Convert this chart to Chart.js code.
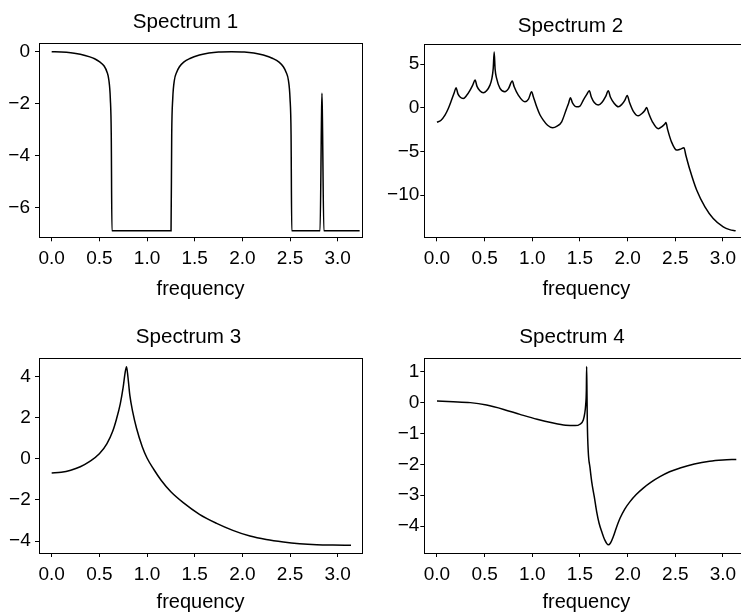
<!DOCTYPE html>
<html>
<head>
<meta charset="utf-8">
<script src="https://cdn.jsdelivr.net/npm/chart.js@4.4.0/dist/chart.umd.min.js"></script>
<style>
  html, body { margin: 0; padding: 0; background: #fff; overflow: hidden; width: 741px; height: 613px; }
  canvas { position: absolute; }
</style>
</head>
<body>
<canvas id="c1"></canvas>
<canvas id="c2"></canvas>
<canvas id="c3"></canvas>
<canvas id="c4"></canvas>
<script>
const titles = ['Spectrum 1', 'Spectrum 2', 'Spectrum 3', 'Spectrum 4'];
const xLabel = 'frequency';
const xTicks = [0, 0.5, 1, 1.5, 2, 2.5, 3];

// Spectrum 1
const freq1 = [0, 0.1, 0.2, 0.3, 0.4, 0.45, 0.5, 0.55, 0.58, 0.6, 0.615, 0.625, 0.632,
  1.252, 1.259, 1.27, 1.287, 1.31, 1.34, 1.385, 1.45, 1.55, 1.65, 1.75, 1.885,
  2.02, 2.12, 2.22, 2.32, 2.385, 2.43, 2.46, 2.483, 2.5, 2.511, 2.518,
  2.815, 2.83, 2.835, 2.84, 2.855, 3.23];
const spec1 = [0, -0.01, -0.04, -0.1, -0.2, -0.27, -0.38, -0.55, -0.78, -1.1, -1.8, -3.2, -6.91,
  -6.91, -3.2, -1.8, -1.1, -0.8, -0.58, -0.4, -0.26, -0.13, -0.05, -0.01, 0,
  -0.01, -0.05, -0.13, -0.26, -0.4, -0.58, -0.8, -1.1, -1.8, -3.2, -6.91,
  -6.91, -2.6, -1.6, -2.6, -6.91, -6.91];
const yTicks1 = [0, -2, -4, -6];

// Spectrum 2
const freq2 = [0, 0.04, 0.084, 0.12, 0.15, 0.18, 0.2, 0.22, 0.245, 0.276, 0.31, 0.346, 0.375, 0.4,
  0.42, 0.45, 0.486, 0.52, 0.556, 0.575, 0.59, 0.6, 0.61, 0.625, 0.661, 0.713, 0.75, 0.79,
  0.81, 0.853, 0.923, 0.96, 0.993, 1.01, 1.046, 1.08, 1.115, 1.16, 1.213, 1.26, 1.308, 1.36,
  1.38, 1.4, 1.42, 1.465, 1.5, 1.535, 1.57, 1.598, 1.62, 1.65, 1.692, 1.73, 1.77, 1.797,
  1.82, 1.86, 1.902, 1.94, 1.97, 1.996, 2.02, 2.06, 2.112, 2.15, 2.18, 2.2, 2.22, 2.26,
  2.322, 2.36, 2.39, 2.402, 2.42, 2.46, 2.514, 2.55, 2.591, 2.61, 2.654, 2.724, 2.811,
  2.898, 3.003, 3.07, 3.133];
const spec2 = [-1.65, -1.45, -0.84, -0.05, 0.8, 1.7, 2.3, 1.6, 1.2, 1.07, 1.4, 2.0, 2.6, 3.17,
  2.45, 1.95, 1.72, 1.95, 2.6, 3.3, 4.5, 6.4, 4.4, 3.4, 2.22, 1.84, 2.2, 3.06,
  2.4, 1.45, 0.69, 1.0, 1.84, 1.3, 0.11, -0.8, -1.41, -2.0, -2.29, -2.1, -1.6, -0.07,
  0.5, 1.15, 0.6, 0.11, 0.2, 0.88, 1.5, 1.95, 1.2, 0.6, 0.31, 0.6, 1.3, 1.95,
  1.2, 0.5, 0.11, 0.4, 0.85, 1.42, 0.6, -0.4, -0.92, -0.65, -0.3, 0.04, -0.6, -1.6,
  -2.4, -2.15, -1.85, -1.68, -2.5, -3.9, -4.84, -4.75, -4.58, -5.4, -7.13, -9.42, -11.34,
  -12.67, -13.63, -13.95, -14.08];
const yTicks2 = [5, 0, -5, -10];

// Spectrum 3
const freq3 = [0, 0.1, 0.2, 0.3, 0.4, 0.5, 0.58, 0.64, 0.68, 0.72, 0.75, 0.77, 0.785, 0.8,
  0.82, 0.85, 0.89, 0.95, 1.0, 1.07, 1.15, 1.25, 1.38, 1.55, 1.73, 1.9, 2.08, 2.25,
  2.43, 2.6, 2.78, 2.95, 3.14];
const spec3 = [-0.68, -0.65, -0.55, -0.38, -0.12, 0.25, 0.75, 1.35, 1.95, 2.7, 3.5, 4.2, 4.5, 4.0,
  3.1, 2.3, 1.5, 0.6, 0.05, -0.5, -1.05, -1.6, -2.13, -2.7, -3.14, -3.48, -3.76, -3.93,
  -4.05, -4.13, -4.18, -4.2, -4.21];
const yTicks3 = [4, 2, 0, -2, -4];

// Spectrum 4
const freq4 = [0, 0.17, 0.35, 0.52, 0.7, 0.87, 1.05, 1.22, 1.35, 1.45, 1.5, 1.535, 1.55, 1.56,
  1.567, 1.57, 1.574, 1.577, 1.587, 1.605, 1.623, 1.65, 1.675, 1.7, 1.728, 1.76, 1.797,
  1.82, 1.85, 1.88, 1.92, 1.97, 2.025, 2.09, 2.164, 2.25, 2.339, 2.44, 2.55, 2.7, 2.86,
  3.0, 3.14];
const spec4 = [0.05, 0.03, 0.0, -0.08, -0.22, -0.38, -0.54, -0.66, -0.73, -0.745, -0.7, -0.56, -0.35, -0.07,
  0.4, 1.17, 0.2, -0.62, -1.59, -2.1, -2.56, -3.05, -3.53, -3.9, -4.18, -4.45, -4.61,
  -4.55, -4.34, -4.07, -3.75, -3.45, -3.21, -2.98, -2.77, -2.57, -2.4, -2.24, -2.12, -1.99, -1.9,
  -1.86, -1.84];
const yTicks4 = [1, 0, -1, -2, -3, -4];

const FONT = "'Liberation Sans', Arial, Helvetica, sans-serif";

function makeChart(id, freq, spec, yTicks, title, lay) {
  const cv = document.getElementById(id);
  cv.width = lay.w;
  cv.height = lay.h;
  cv.style.left = lay.left + 'px';
  cv.style.top = lay.top + 'px';
  cv.style.width = lay.w + 'px';
  cv.style.height = lay.h + 'px';

  const points = freq.map((f, i) => ({x: f, y: spec[i]}));

  return new Chart(cv, {
    type: 'line',
    data: {
      datasets: [{
        data: points,
        borderColor: '#000',
        borderWidth: 1.5,
        pointRadius: 0,
        fill: false,
        cubicInterpolationMode: 'monotone'
      }]
    },
    options: {
      responsive: false,
      animation: false,
      devicePixelRatio: 1,
      layout: {padding: 0},
      plugins: {
        legend: {display: false},
        tooltip: {enabled: false},
        title: {
          display: true,
          text: title,
          color: '#000',
          font: {family: FONT, size: 20.6, weight: 'normal'},
          padding: {top: lay.tTop, bottom: lay.tBot}
        }
      },
      scales: {
        x: {
          type: 'linear',
          min: lay.xMin,
          max: lay.xMax,
          afterBuildTicks: s => { s.ticks = xTicks.map(v => ({value: v})); },
          afterFit: s => { s.height = lay.xH; },
          ticks: {
            color: '#000',
            font: {family: FONT, size: 19},
            padding: lay.xPad,
            maxRotation: 0,
            autoSkip: false,
            callback: v => v.toFixed(1)
          },
          grid: {display: true, drawOnChartArea: false, drawTicks: true, tickLength: 4, color: '#000', lineWidth: 1},
          border: {display: true, color: '#000', width: 1},
          title: {
            display: true,
            text: xLabel,
            color: '#000',
            font: {family: FONT, size: 20},
            padding: {top: 0, bottom: lay.xtPad}
          }
        },
        y: {
          type: 'linear',
          position: 'left',
          min: lay.yMin,
          max: lay.yMax,
          afterBuildTicks: s => { s.ticks = yTicks.map(v => ({value: v})); },
          afterFit: s => { s.width = lay.yW; },
          ticks: {
            color: '#000',
            font: {family: FONT, size: 19},
            padding: lay.yPad,
            autoSkip: false,
            callback: v => String(v).replace('-', '\u2212')
          },
          grid: {display: true, drawOnChartArea: false, drawTicks: true, tickLength: 4, color: '#000', lineWidth: 1},
          border: {display: true, color: '#000', width: 1}
        },
        x2: {
          type: 'linear',
          position: 'top',
          ticks: {display: false},
          grid: {display: false},
          border: {display: true, color: '#000', width: 1},
          afterFit: s => { s.height = 0; }
        },
        y2: {
          type: 'linear',
          position: 'right',
          ticks: {display: false},
          grid: {display: false},
          border: {display: true, color: '#000', width: 1},
          afterFit: s => { s.width = lay.y2W; }
        }
      }
    }
  });
}

makeChart('c1', freq1, spec1, yTicks1, titles[0], {
  left: 0, top: 0, w: 371, h: 306, tTop: 9.6, tBot: 9.0,
  xH: 68.7, xPad: 6.5, xtPad: 4.5, yW: 39, yPad: 5, y2W: 9,
  xMin: -0.133, xMax: 3.255, yMin: -7.158, yMax: 0.324
});
makeChart('c2', freq2, spec2, yTicks2, titles[1], {
  left: 370, top: 0, w: 401, h: 306, tTop: 13.6, tBot: 6.0,
  xH: 68.7, xPad: 6.5, xtPad: 4.5, yW: 54.3, yPad: 1, y2W: 22.5,
  xMin: -0.133, xMax: 3.268, yMin: -14.83, yMax: 7.27
});
makeChart('c3', freq3, spec3, yTicks3, titles[2], {
  left: 0, top: 306, w: 377, h: 309, tTop: 18.8, tBot: 9.2,
  xH: 62, xPad: 6, xtPad: 0.5, yW: 39, yPad: 4.3, y2W: 15,
  xMin: -0.133, xMax: 3.255, yMin: -4.585, yMax: 4.89
});
makeChart('c4', freq4, spec4, yTicks4, titles[3], {
  left: 370, top: 306, w: 404, h: 309, tTop: 18.8, tBot: 9.2,
  xH: 62, xPad: 6, xtPad: 0.5, yW: 54.3, yPad: 1, y2W: 25.5,
  xMin: -0.133, xMax: 3.268, yMin: -4.874, yMax: 1.423
});
</script>
</body>
</html>
